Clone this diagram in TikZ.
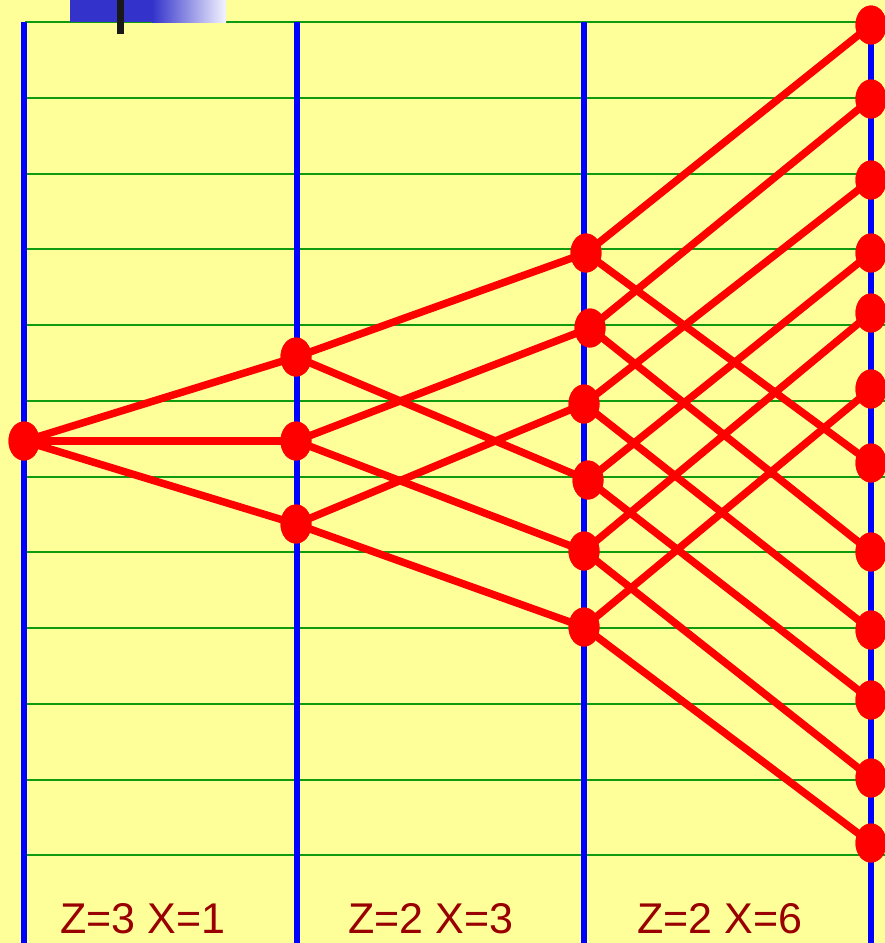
\documentclass[tikz,border=0pt]{standalone}
\usepackage{fontspec}
\setmainfont{Liberation Sans}
\usetikzlibrary{shapes.geometric}
\definecolor{bgyellow}{HTML}{FFFF99}
\definecolor{gridgreen}{HTML}{109A10}
\definecolor{axisblue}{HTML}{0000FF}
\definecolor{linkred}{HTML}{FF0000}
\definecolor{labelred}{HTML}{990000}
\definecolor{barblue}{HTML}{3333CC}
\definecolor{barwhite}{HTML}{F4F4FF}
\tikzset{
  grid line/.style={draw=gridgreen, line width=2pt},
  axis line/.style={draw=axisblue, line width=5.5pt},
  link/.style={draw=linkred, line width=7.5pt},
  dot/.style={ellipse, fill=linkred, minimum width=31pt, minimum height=39pt, inner sep=0pt},
  label text/.style={text=labelred, font=\fontsize{43}{43}\selectfont, anchor=base, inner sep=0pt}
}
\begin{document}
\begin{tikzpicture}[x=1pt,y=-1pt]
\useasboundingbox (0,0) rectangle (885,943);
\fill[bgyellow] (0,0) rectangle (885,943);
% grid
\foreach \k in {0,...,11}{
  \draw[grid line] (25,{22+\k*75.75}) -- (885,{22+\k*75.75});
}
% axes
\foreach \xx in {24,297,584,871}{
  \draw[axis line] (\xx,22) -- (\xx,943);
}
% top decoration
\fill[barblue] (70,0) rectangle (152,22);
\shade[left color=barblue, right color=barwhite] (152,0) rectangle (226,22);
\fill[black!90] (117,0) rectangle (124,34);
% nodes
\node[dot] (L) at (24,441) {};
\node[dot] (A1) at (296,357) {};
\node[dot] (A2) at (296,441) {};
\node[dot] (A3) at (296,524) {};
\node[dot] (B1) at (586,253) {};
\node[dot] (B2) at (590,328) {};
\node[dot] (B3) at (584,404) {};
\node[dot] (B4) at (588,480) {};
\node[dot] (B5) at (584,551) {};
\node[dot] (B6) at (584,627) {};
\node[dot] (C1) at (871,25) {};
\node[dot] (C2) at (871,99) {};
\node[dot] (C3) at (871,180) {};
\node[dot] (C4) at (871,253) {};
\node[dot] (C5) at (871,313) {};
\node[dot] (C6) at (871,389) {};
\node[dot] (C7) at (871,463) {};
\node[dot] (C8) at (871,552) {};
\node[dot] (C9) at (871,630) {};
\node[dot] (C10) at (871,700) {};
\node[dot] (C11) at (871,778) {};
\node[dot] (C12) at (871,843) {};
% links
\begin{scope}[on background layer/.style={}]
\foreach \a/\b in {L/A1,L/A2,L/A3,
  A1/B1,A1/B4,A2/B2,A2/B5,A3/B3,A3/B6,
  B1/C1,B2/C2,B3/C3,B4/C4,B5/C5,B6/C6,
  B1/C7,B2/C8,B3/C9,B4/C10,B5/C11,B6/C12}{
  \draw[link] (\a.center) -- (\b.center);
}
\end{scope}
% redraw dots on top
\foreach \n/\p in {L/{(24,441)},A1/{(296,357)},A2/{(296,441)},A3/{(296,524)},
  B1/{(586,253)},B2/{(590,328)},B3/{(584,404)},B4/{(588,480)},B5/{(584,551)},B6/{(584,627)},
  C1/{(871,25)},C2/{(871,99)},C3/{(871,180)},C4/{(871,253)},C5/{(871,313)},C6/{(871,389)},
  C7/{(871,463)},C8/{(871,552)},C9/{(871,630)},C10/{(871,700)},C11/{(871,778)},C12/{(871,843)}}{
  \fill[linkred] (\n.center) ellipse [x radius=15.5pt, y radius=19.5pt];
}
% labels
\node[label text] (t1) at (143,933) {Z=3 X=1};
\node[label text] (t2) at (431,933) {Z=2 X=3};
\node[label text] (t3) at (720,933) {Z=2 X=6};
\end{tikzpicture}
\end{document}
